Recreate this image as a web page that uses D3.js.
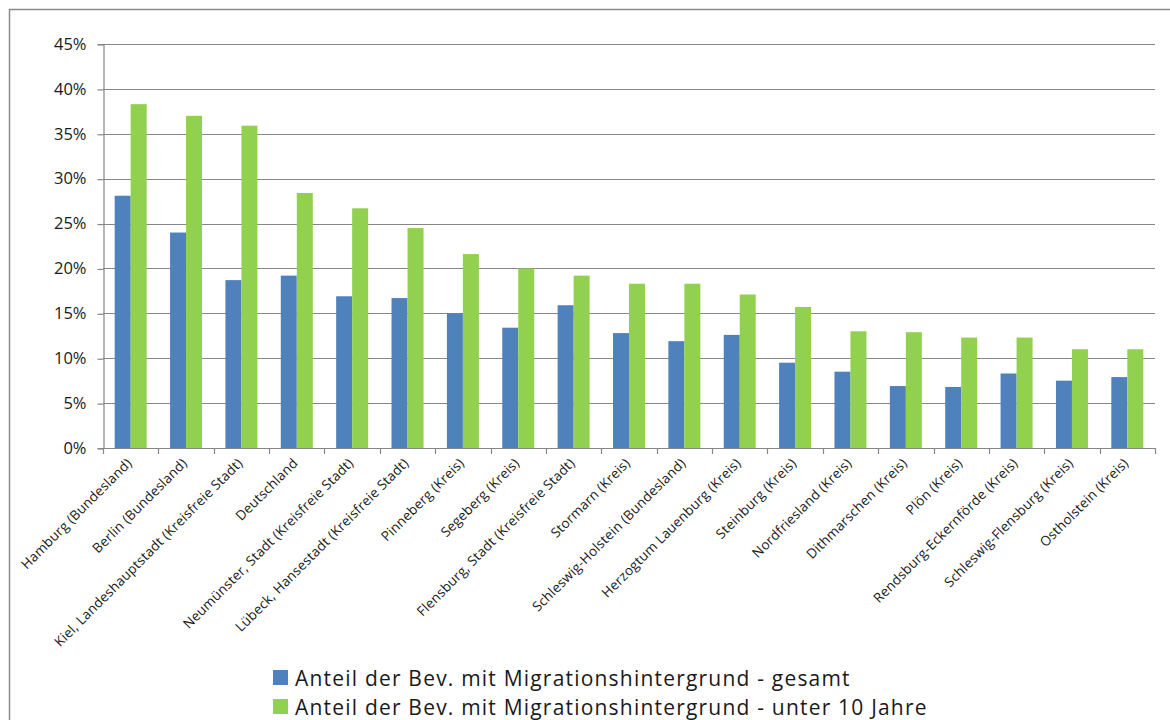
<!DOCTYPE html>
<html>
<head>
<meta charset="utf-8">
<script src="https://cdn.jsdelivr.net/npm/d3@7"></script>
<style>
  html, body { margin: 0; padding: 0; background: #fff; }
  svg { display: block; font-family: "Open Sans", "Liberation Sans", sans-serif; }
</style>
</head>
<body>
<svg id="chart" width="1170" height="720"></svg>
<script>
// Regions, ordered by share of population under 10 with migration background
const categories = [
  "Hamburg (Bundesland)",
  "Berlin (Bundesland)",
  "Kiel, Landeshauptstadt (Kreisfreie Stadt)",
  "Deutschland",
  "Neumünster, Stadt (Kreisfreie Stadt)",
  "Lübeck, Hansestadt (Kreisfreie Stadt)",
  "Pinneberg (Kreis)",
  "Segeberg (Kreis)",
  "Flensburg, Stadt (Kreisfreie Stadt)",
  "Stormarn (Kreis)",
  "Schleswig-Holstein (Bundesland)",
  "Herzogtum Lauenburg (Kreis)",
  "Steinburg (Kreis)",
  "Nordfriesland (Kreis)",
  "Dithmarschen (Kreis)",
  "Plön (Kreis)",
  "Rendsburg-Eckernförde (Kreis)",
  "Schleswig-Flensburg (Kreis)",
  "Ostholstein (Kreis)"
];

// Share of population with migration background, total (%)
const gesamt = [28.1, 24.0, 18.7, 19.2, 16.9, 16.7, 15.0, 13.4, 15.9, 12.8, 11.9, 12.6, 9.5, 8.5, 6.9, 6.8, 8.3, 7.5, 7.9];
// Share of population with migration background, under 10 years (%)
const unter10 = [38.3, 37.0, 35.9, 28.4, 26.7, 24.5, 21.6, 20.0, 19.2, 18.3, 18.3, 17.1, 15.7, 13.0, 12.9, 12.3, 12.3, 11.0, 11.0];

const seriesNames = [
  "Anteil der Bev. mit Migrationshintergrund - gesamt",
  "Anteil der Bev. mit Migrationshintergrund - unter 10 Jahre"
];
const seriesColors = ["#4f81bd", "#92d050"];
const yTicks = [0, 5, 10, 15, 20, 25, 30, 35, 40, 45];

const svg = d3.select("#chart");
const W = 1170, H = 720;
const plot = { left: 103, right: 1155, top: 44, bottom: 448 };
const axisColor = "#878787";

// outer chart frame
svg.append("rect")
  .attr("x", 9.5).attr("y", 9.5)
  .attr("width", W + 20).attr("height", H + 20)
  .attr("fill", "none")
  .attr("stroke", "#8a8a8a")
  .attr("stroke-width", 1.5);

const x = d3.scaleBand()
  .domain(categories)
  .range([plot.left, plot.right])
  .paddingInner(0).paddingOuter(0);

const y = d3.scaleLinear()
  .domain([0, 45])
  .range([plot.bottom, plot.top]);

const barW = 16;

// horizontal gridlines
svg.append("g")
  .selectAll("line")
  .data(yTicks.filter(d => d > 0))
  .join("line")
  .attr("x1", plot.left).attr("x2", plot.right)
  .attr("y1", d => Math.round(y(d)) + 0.5)
  .attr("y2", d => Math.round(y(d)) + 0.5)
  .attr("stroke", axisColor)
  .attr("stroke-width", 1.2);

// y axis
const yAxis = d3.axisLeft(y)
  .tickValues(yTicks)
  .tickFormat(d => d + "%")
  .tickSize(6)
  .tickPadding(11);

const gy = svg.append("g")
  .attr("transform", `translate(${plot.left + 0.5},0)`)
  .call(yAxis);
gy.select(".domain").attr("stroke", axisColor).attr("stroke-width", 1.2);
gy.selectAll(".tick line").attr("stroke", axisColor).attr("stroke-width", 1.2)
  .attr("transform", "translate(0,0.5)");
gy.selectAll(".tick text")
  .attr("font-size", 16.5)
  .attr("fill", "#1a1a1a")
  .attr("font-family", "'Open Sans', sans-serif");

// bars
const groups = svg.append("g")
  .selectAll("g")
  .data(categories.map((c, i) => ({ c, vals: [gesamt[i], unter10[i]] })))
  .join("g")
  .attr("transform", d => `translate(${x(d.c) + x.bandwidth() / 2},0)`);

groups.selectAll("rect")
  .data(d => d.vals.map((v, k) => ({ v, k })))
  .join("rect")
  .attr("x", d => d.k === 0 ? -barW : 0)
  .attr("width", barW)
  .attr("y", d => y(d.v))
  .attr("height", d => y(0) - y(d.v))
  .attr("fill", d => seriesColors[d.k]);

// x axis: ticks at category boundaries
const xAxisG = svg.append("g");
xAxisG.append("line")
  .attr("x1", plot.left).attr("x2", plot.right)
  .attr("y1", plot.bottom + 0.5).attr("y2", plot.bottom + 0.5)
  .attr("stroke", axisColor).attr("stroke-width", 1.2);
const bounds = categories.map(c => x(c)).concat([plot.right]);
xAxisG.selectAll("line.tk")
  .data(bounds)
  .join("line")
  .attr("class", "tk")
  .attr("x1", d => Math.round(d) + 0.5).attr("x2", d => Math.round(d) + 0.5)
  .attr("y1", plot.bottom).attr("y2", plot.bottom + 6)
  .attr("stroke", axisColor).attr("stroke-width", 1.2);

// rotated category labels
xAxisG.selectAll("text")
  .data(categories)
  .join("text")
  .attr("transform", d => `translate(${x(d) + x.bandwidth() / 2 + 2},${plot.bottom + 16}) rotate(-45)`)
  .attr("text-anchor", "end")
  .attr("font-size", 13.5)
  .attr("letter-spacing", 0.2)
  .attr("fill", "#1a1a1a")
  .text(d => d);

// legend
const legend = svg.append("g").attr("transform", "translate(273,670)");
const li = legend.selectAll("g")
  .data(seriesNames)
  .join("g")
  .attr("transform", (d, i) => `translate(0,${i * 29})`);
li.append("rect")
  .attr("width", 15).attr("height", 15)
  .attr("fill", (d, i) => seriesColors[i]);
li.append("text")
  .attr("x", 22).attr("y", 15.5)
  .attr("font-size", 21)
  .attr("letter-spacing", 1.2)
  .attr("fill", "#1a1a1a")
  .text(d => d);
</script>
</body>
</html>
